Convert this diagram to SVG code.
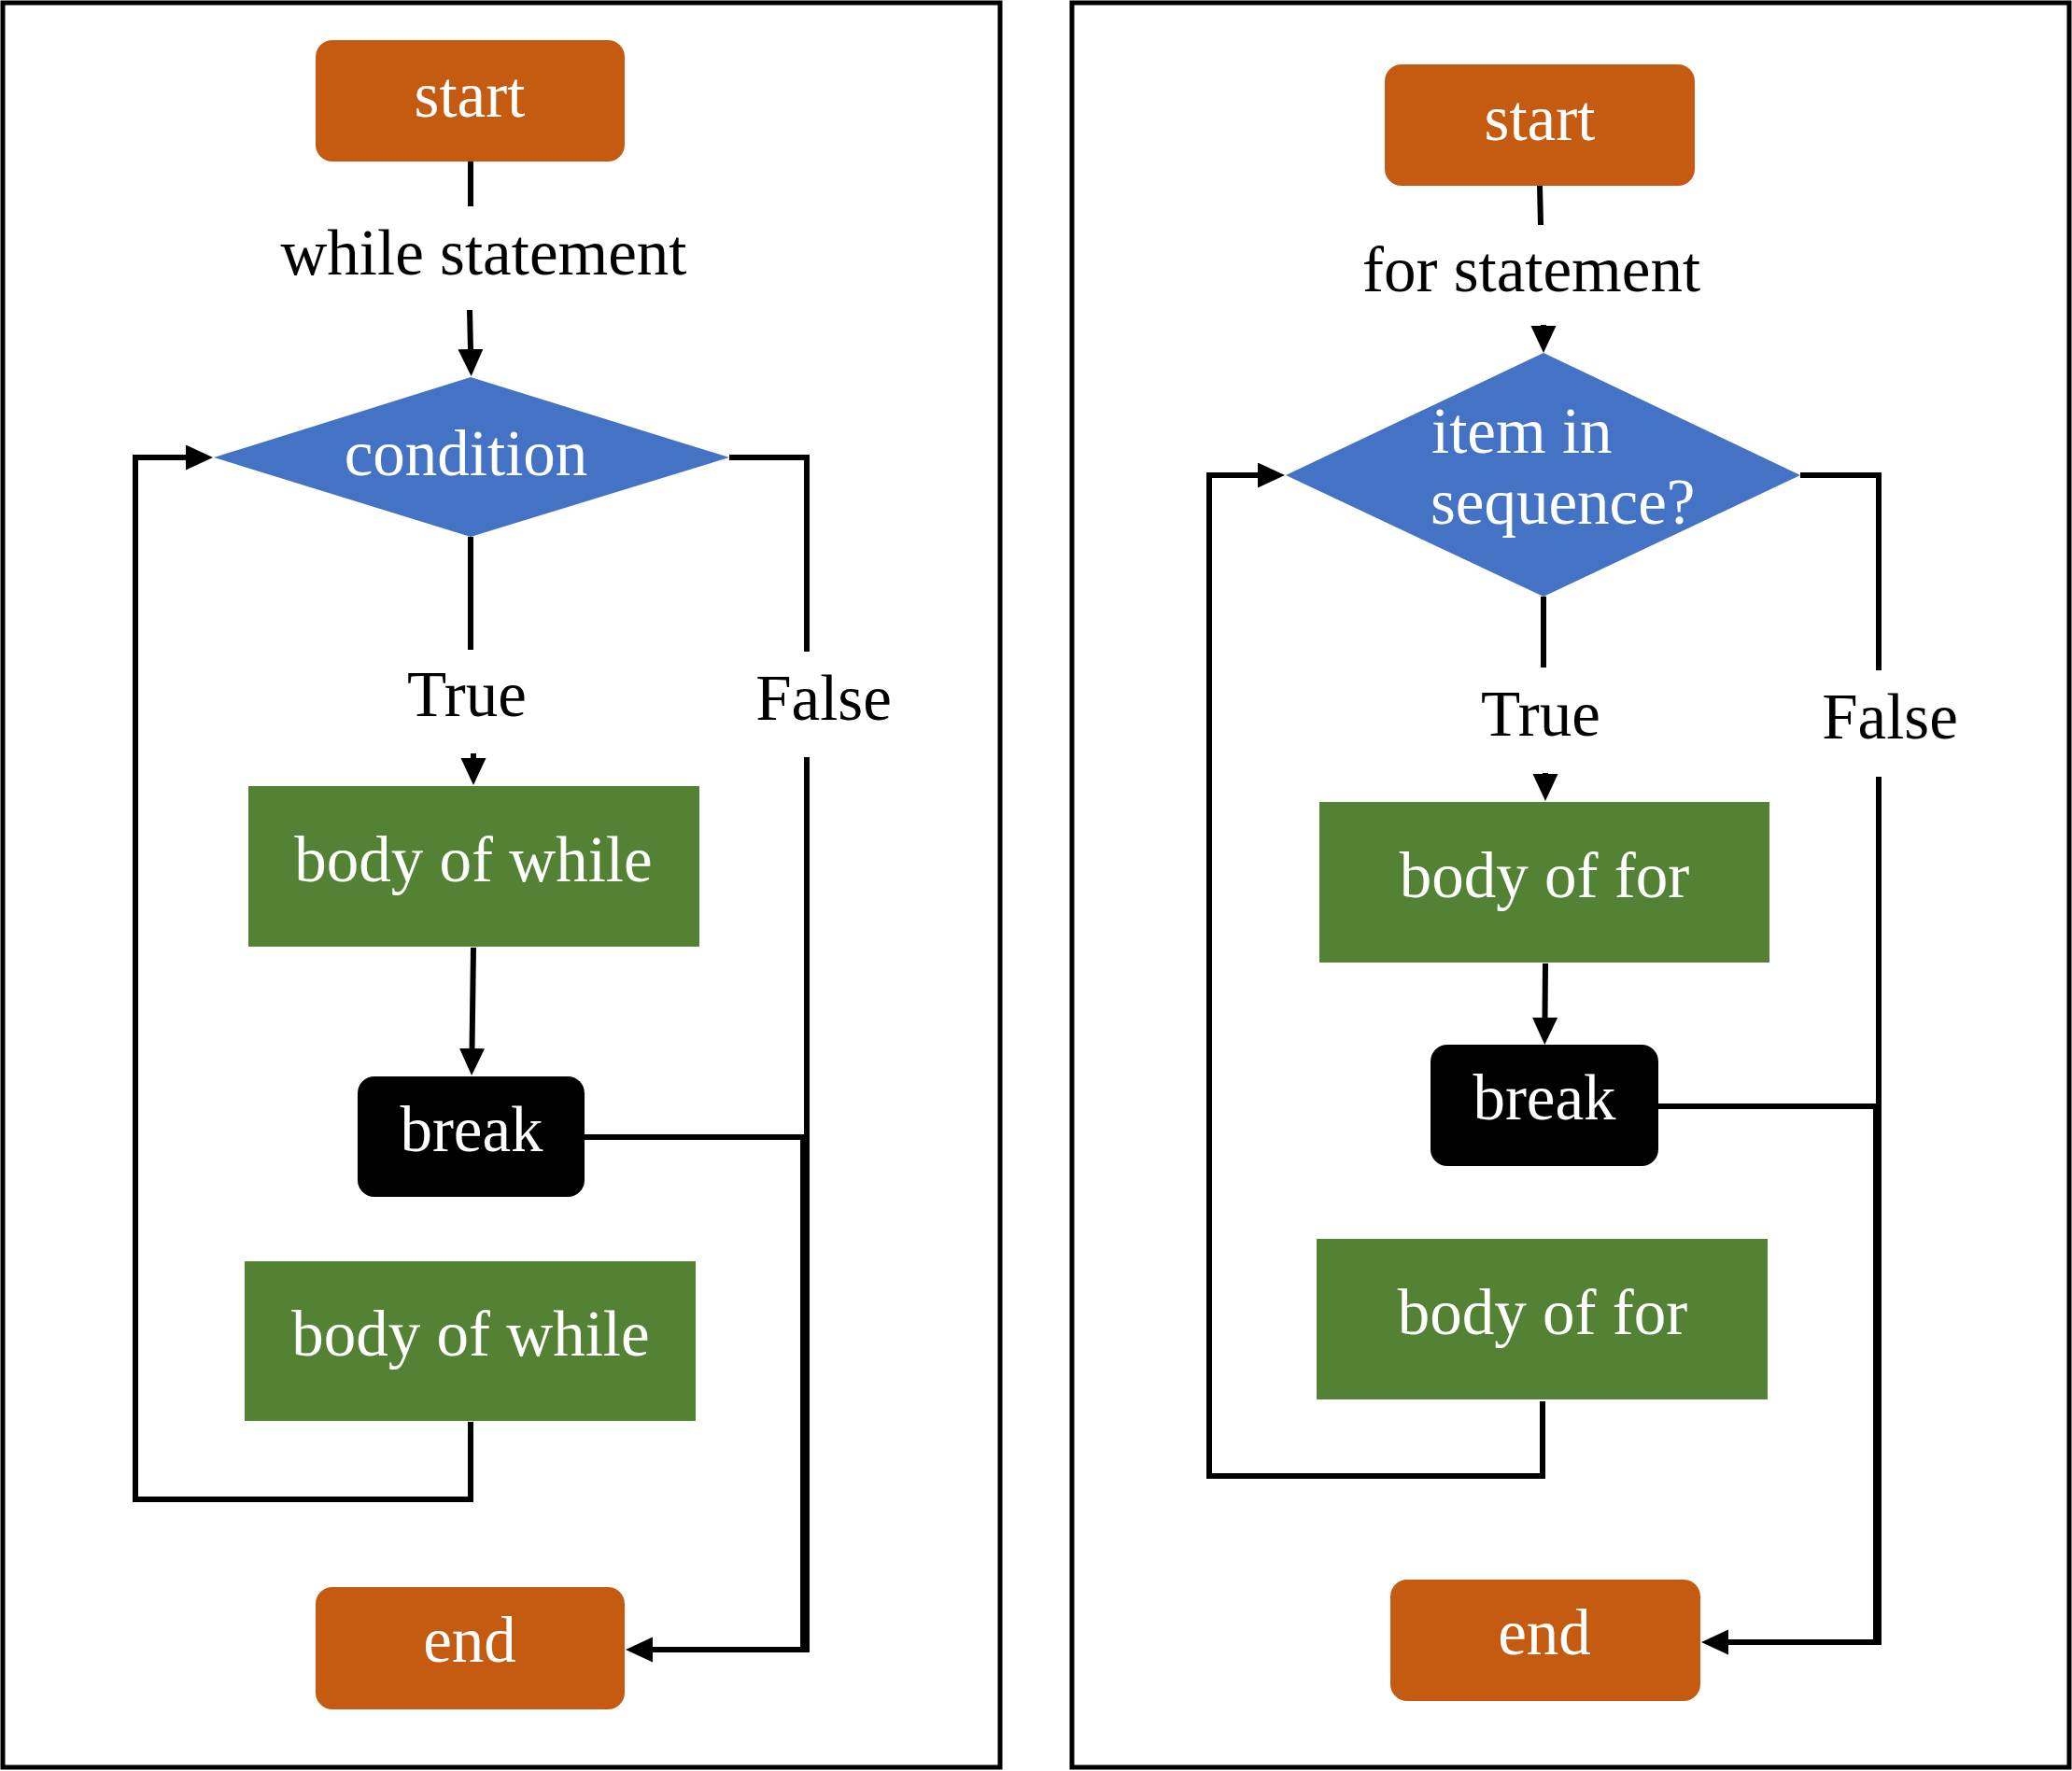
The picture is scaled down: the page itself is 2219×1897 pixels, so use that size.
<svg xmlns="http://www.w3.org/2000/svg" width="2219" height="1897" viewBox="0 0 2219 1897">
<style>
  .frame { fill: none; stroke: #000; stroke-width: 5; }
  .term { fill: #C55A11; }
  .dec { fill: #4472C4; }
  .proc { fill: #548235; }
  .brk { fill: #000; }
  .t { font-family: "Liberation Serif", "Times New Roman", serif; font-size: 69px; text-anchor: middle; }
  .w { fill: #fff; }
  .k { fill: #000; }
  .c { fill: none; stroke: #000; stroke-width: 6; stroke-linejoin: miter; stroke-linecap: butt; }
  .arr { marker-end: url(#ah); }
</style>
<defs>
  <marker id="ah" markerUnits="userSpaceOnUse" markerWidth="30" markerHeight="28" refX="1" refY="13.5" orient="auto" viewBox="0 0 30 28">
    <path d="M0,0 L29,13.5 L0,27 Z" fill="#000"/>
  </marker>
</defs>
<rect width="2219" height="1897" fill="#fff"/>
<g id="frames">
  <rect class="frame" x="3" y="3" width="1068" height="1890"/>
  <rect class="frame" x="1148" y="3" width="1068" height="1890"/>
</g>
<g id="connectors">
  <!-- left panel -->
  <path class="c" d="M504,173 V221"/>
  <path class="c arr" d="M503,332 L504,375"/>
  <path class="c" d="M504,575 V696"/>
  <path class="c arr" d="M507,807 V813"/>
  <path class="c arr" d="M507,1015 L505.5,1124"/>
  <path class="c arr" d="M504,1523 V1606 H145 V490 H200"/>
  <path class="c" d="M781,490 H864 V698"/>
  <path class="c arr" d="M864,811 V1767 H698"/>
  <path class="c" d="M626,1218 H860 V1767"/>
  <!-- right panel -->
  <path class="c" d="M1649,199 L1650,241"/>
  <path class="c arr" d="M1653,348 V350"/>
  <path class="c" d="M1653,639 V715"/>
  <path class="c arr" d="M1655,828 V830"/>
  <path class="c arr" d="M1655,1032 L1654.5,1091"/>
  <path class="c arr" d="M1652,1501 V1581 H1295 V509 H1348"/>
  <path class="c" d="M1928,509 H2012 V718"/>
  <path class="c arr" d="M2012,832 V1759 H1850"/>
  <path class="c" d="M1776,1185 H2009 V1759"/>
</g>
<g id="labels">
  <text class="t k" x="518" y="294">while statement</text>
  <text class="t k" x="500" y="767">True</text>
  <text class="t k" x="882" y="771">False</text>
  <text class="t k" x="1640" y="312">for statement</text>
  <text class="t k" x="1650" y="788">True</text>
  <text class="t k" x="2024" y="791">False</text>
</g>
<g id="w-start">
  <rect class="term" x="338" y="43" width="331" height="130" rx="18"/>
  <text class="t w" x="503" y="125">start</text>
</g>
<g id="w-cond">
  <polygon class="dec" points="504,404 781,490 504,575 229,490"/>
  <text class="t w" x="499" y="509">condition</text>
</g>
<g id="w-body1">
  <rect class="proc" x="266" y="842" width="483" height="172"/>
  <text class="t w" x="507" y="944">body of while</text>
</g>
<g id="w-break">
  <rect class="brk" x="383" y="1153" width="243" height="129" rx="18"/>
  <text class="t w" x="505" y="1233">break</text>
</g>
<g id="w-body2">
  <rect class="proc" x="262" y="1351" width="483" height="171"/>
  <text class="t w" x="504" y="1452">body of while</text>
</g>
<g id="w-end">
  <rect class="term" x="338" y="1700" width="331" height="131" rx="18"/>
  <text class="t w" x="503" y="1780">end</text>
</g>
<g id="f-start">
  <rect class="term" x="1483" y="69" width="332" height="130" rx="18"/>
  <text class="t w" x="1649" y="150">start</text>
</g>
<g id="f-cond">
  <polygon class="dec" points="1653,378 1928,509 1653,639 1377,509"/>
  <text class="t w" x="1533" y="485" style="text-anchor:start">item in</text>
  <text class="t w" x="1532" y="561" style="text-anchor:start">sequence?</text>
</g>
<g id="f-body1">
  <rect class="proc" x="1413" y="859" width="482" height="172"/>
  <text class="t w" x="1654" y="961">body of for</text>
</g>
<g id="f-break">
  <rect class="brk" x="1532" y="1119" width="244" height="130" rx="18"/>
  <text class="t w" x="1654" y="1199">break</text>
</g>
<g id="f-body2">
  <rect class="proc" x="1410" y="1327" width="483" height="172"/>
  <text class="t w" x="1652" y="1429">body of for</text>
</g>
<g id="f-end">
  <rect class="term" x="1489" y="1692" width="332" height="130" rx="18"/>
  <text class="t w" x="1654" y="1772">end</text>
</g>
</svg>
